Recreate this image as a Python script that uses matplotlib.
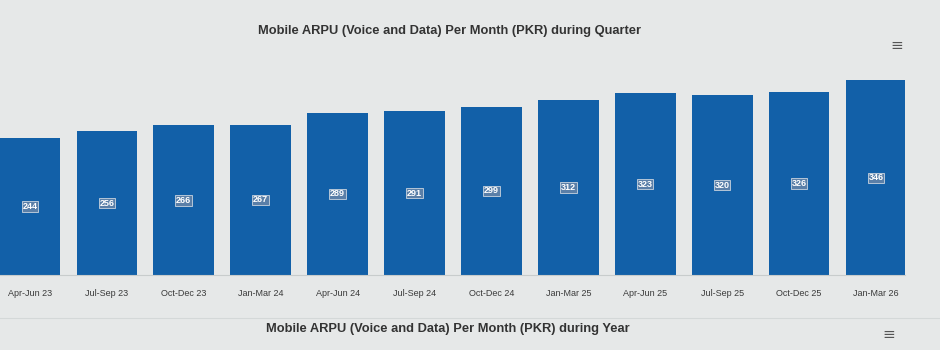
import matplotlib.pyplot as plt

plt.rcParams['font.family'] = ['Liberation Sans', 'DejaVu Sans']

quarters = ['Apr-Jun 23', 'Jul-Sep 23', 'Oct-Dec 23', 'Jan-Mar 24', 'Apr-Jun 24', 'Jul-Sep 24',
            'Oct-Dec 24', 'Jan-Mar 25', 'Apr-Jun 25', 'Jul-Sep 25', 'Oct-Dec 25', 'Jan-Mar 26']
arpu = [244, 256, 266, 267, 289, 291, 299, 312, 323, 320, 326, 346]

bg = '#e6e8e8'
fig = plt.figure(figsize=(9.4, 3.5), dpi=100, facecolor=bg)

# plot area (the photo cuts off the left edge of the first bar)
ax = fig.add_axes([0.0, 0.214, 0.963, 0.614])
ax.set_facecolor(bg)
x = list(range(len(quarters)))
ax.bar(x, arpu, width=0.79, color='#1260a8', zorder=2)
ax.set_xlim(-0.39, 11.38)
ax.set_ylim(0, 382)

for i, v in enumerate(arpu):
    ax.text(i, v / 2, str(v), ha='center', va='center', fontsize=6.5, color='white',
            fontweight='bold',
            bbox=dict(boxstyle='square,pad=0.08', fc='#5a7fa8', ec='#c8d4e0', lw=0.6))

ax.set_xticks(x)
ax.set_xticklabels(quarters, fontsize=6.5, color='#3a3a3a')
ax.tick_params(axis='x', length=0, pad=10)
ax.set_yticks([])
for s in ['top', 'left', 'right']:
    ax.spines[s].set_visible(False)
ax.spines['bottom'].set_color('#c8cccc')
ax.spines['bottom'].set_linewidth(0.8)

# titles and menu icons
fig.text(0.478, 0.912, 'Mobile ARPU (Voice and Data) Per Month (PKR) during Quarter',
         ha='center', va='center', fontsize=9.3, fontweight='bold', color='#333333')
fig.text(0.954, 0.869, '\u2261', ha='center', va='center', fontsize=11, color='#555555',
         family='DejaVu Sans')
fig.text(0.476, 0.060, 'Mobile ARPU (Voice and Data) Per Month (PKR) during Year',
         ha='center', va='center', fontsize=9.3, fontweight='bold', color='#333333')
fig.text(0.946, 0.043, '\u2261', ha='center', va='center', fontsize=11, color='#555555',
         family='DejaVu Sans')
fig.add_artist(plt.Line2D([0.0, 1.0], [0.092, 0.092], color='#d4d8d8', lw=0.8))

fig.savefig('out.png', dpi=100, facecolor=bg)
